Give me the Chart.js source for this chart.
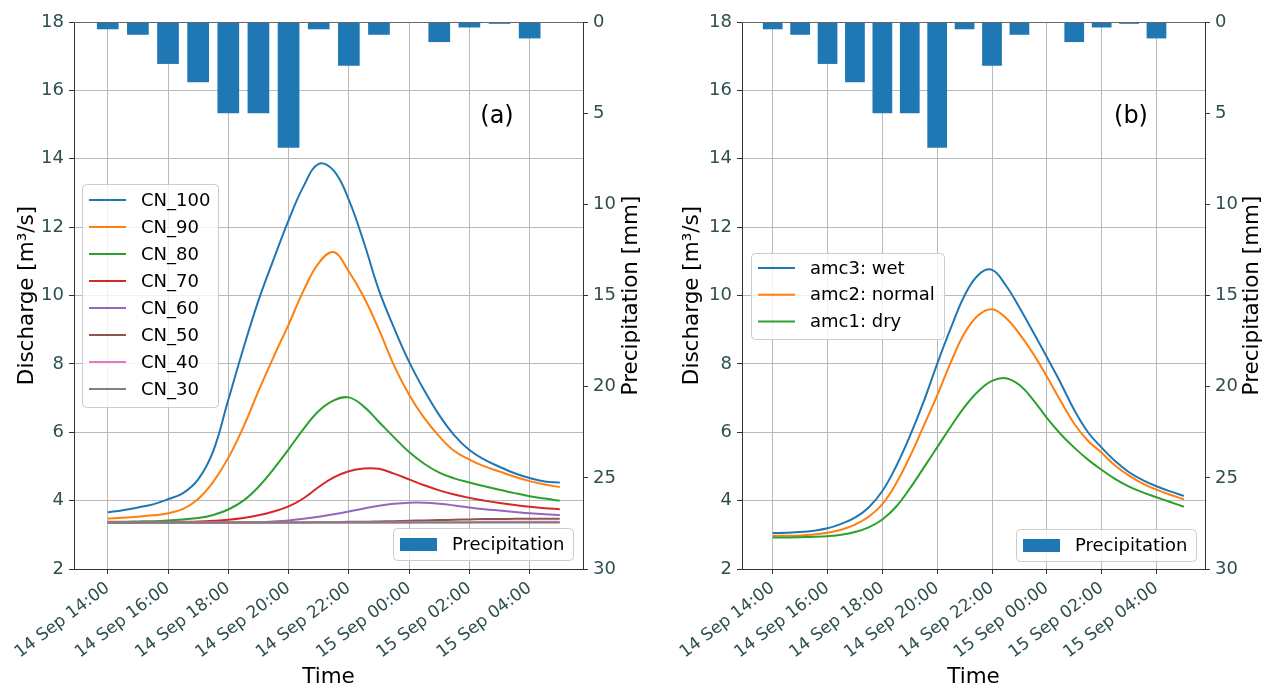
<!DOCTYPE html>
<html>
<head>
<meta charset="utf-8">
<script src="https://cdn.jsdelivr.net/npm/chart.js@4.4.0/dist/chart.umd.min.js"></script>
<style>
  body { margin: 0; background: #fff; }
  canvas { position: absolute; top: 0; }
  #chartA { left: 0; }
  #chartB { left: 640px; }
</style>
</head>
<body>
<canvas id="chartA" width="640" height="689"></canvas>
<canvas id="chartB" width="624" height="689"></canvas>
<script>
// x values are hours after 14 Sep 14:00
var hours = [0, 0.5, 1, 1.5, 2, 2.5, 3, 3.5, 4, 4.5, 5, 5.5, 6, 6.5, 7, 7.5,
             8, 8.5, 9, 9.5, 10, 10.5, 11, 11.5, 12, 12.5, 13, 13.5, 14, 14.5, 15];
var rainHours = [0, 1, 2, 3, 4, 5, 6, 7, 8, 9, 10, 11, 12, 13, 14];
var rain = [0.4, 0.7, 2.3, 3.3, 5.0, 5.0, 6.9, 0.4, 2.4, 0.7, 0, 1.1, 0.3, 0.1, 0.9];
var tickHours = [0, 2, 4, 6, 8, 10, 12, 14];
var tickLabels = ['14 Sep 14:00', '14 Sep 16:00', '14 Sep 18:00', '14 Sep 20:00',
                  '14 Sep 22:00', '15 Sep 00:00', '15 Sep 02:00', '15 Sep 04:00'];

// panel (a)
var cnNames = ['CN_100', 'CN_90', 'CN_80', 'CN_70', 'CN_60', 'CN_50', 'CN_40', 'CN_30'];
var cn100 = [3.66, 3.72, 3.80, 3.89, 4.04, 4.22, 4.62, 5.45, 6.95, 8.45, 9.85, 11.05, 12.2, 13.2, 13.85, 13.65,
             12.8, 11.55, 10.15, 9.05, 8.06, 7.23, 6.5, 5.91, 5.48, 5.2, 4.99, 4.8, 4.66, 4.56, 4.53];
var cn90 = [3.48, 3.50, 3.53, 3.57, 3.63, 3.76, 4.05, 4.55, 5.25, 6.15, 7.2, 8.2, 9.15, 10.15, 10.95, 11.27,
            10.7, 9.95, 9.0, 7.95, 7.1, 6.42, 5.88, 5.45, 5.2, 5.0, 4.85, 4.7, 4.57, 4.47, 4.4];
var cn80 = [3.38, 3.38, 3.39, 3.40, 3.42, 3.45, 3.49, 3.58, 3.74, 4.0, 4.4, 4.92, 5.5, 6.1, 6.62, 6.93,
            7.02, 6.75, 6.3, 5.85, 5.42, 5.08, 4.82, 4.65, 4.53, 4.42, 4.32, 4.22, 4.13, 4.06, 4.0];
var cn70 = [3.36, 3.36, 3.36, 3.37, 3.37, 3.38, 3.39, 3.41, 3.44, 3.49, 3.57, 3.68, 3.83, 4.07, 4.4, 4.68,
            4.86, 4.94, 4.93, 4.79, 4.62, 4.45, 4.3, 4.18, 4.08, 4.0, 3.93, 3.87, 3.82, 3.78, 3.75];
var cn60 = [3.36, 3.36, 3.36, 3.36, 3.36, 3.36, 3.36, 3.36, 3.36, 3.36, 3.37, 3.39, 3.42, 3.47, 3.53, 3.6,
            3.68, 3.77, 3.85, 3.91, 3.94, 3.94, 3.91, 3.86, 3.8, 3.75, 3.71, 3.67, 3.63, 3.6, 3.58];
var cn50 = [3.36, 3.36, 3.36, 3.36, 3.36, 3.36, 3.36, 3.36, 3.36, 3.36, 3.36, 3.36, 3.36, 3.36, 3.37, 3.37,
            3.38, 3.38, 3.39, 3.4, 3.41, 3.42, 3.43, 3.44, 3.45, 3.46, 3.46, 3.47, 3.47, 3.47, 3.47];
var cn40 = [3.36, 3.36, 3.36, 3.36, 3.36, 3.36, 3.36, 3.36, 3.36, 3.36, 3.36, 3.36, 3.36, 3.36, 3.36, 3.36,
            3.36, 3.36, 3.36, 3.36, 3.36, 3.37, 3.37, 3.37, 3.37, 3.38, 3.38, 3.38, 3.38, 3.38, 3.38];
var cn30 = [3.36, 3.36, 3.36, 3.36, 3.36, 3.36, 3.36, 3.36, 3.36, 3.36, 3.36, 3.36, 3.36, 3.36, 3.36, 3.36,
            3.36, 3.36, 3.36, 3.36, 3.36, 3.36, 3.36, 3.36, 3.36, 3.36, 3.36, 3.36, 3.36, 3.36, 3.36];

// panel (b)
var amcNames = ['amc3: wet', 'amc2: normal', 'amc1: dry'];
var amcWet = [3.05, 3.06, 3.08, 3.12, 3.19, 3.32, 3.5, 3.8, 4.28, 5.0, 5.88, 6.88, 8.0, 9.05, 10.0, 10.6,
              10.75, 10.3, 9.65, 8.93, 8.2, 7.45, 6.65, 6.0, 5.55, 5.15, 4.83, 4.6, 4.42, 4.27, 4.14];
var amcNormal = [2.97, 2.97, 2.98, 3.01, 3.06, 3.15, 3.3, 3.53, 3.9, 4.5, 5.28, 6.17, 7.08, 8.05, 8.9, 9.42,
                 9.6, 9.35, 8.88, 8.3, 7.63, 6.92, 6.25, 5.75, 5.4, 5.02, 4.73, 4.5, 4.32, 4.17, 4.04];
var amcDry = [2.92, 2.92, 2.93, 2.94, 2.96, 3.0, 3.08, 3.22, 3.45, 3.82, 4.35, 4.95, 5.56, 6.17, 6.74, 7.2,
              7.5, 7.58, 7.38, 6.95, 6.42, 5.95, 5.55, 5.2, 4.9, 4.63, 4.41, 4.24, 4.1, 3.96, 3.82];

var colors = ['#1f77b4', '#ff7f0e', '#2ca02c', '#d62728', '#9467bd', '#8c564b', '#e377c2', '#7f7f7f'];
var tickColor = '#2f4f4f';
var gridColor = '#bababa';

Chart.defaults.font.family = 'DejaVu Sans';

function pts(ys) {
  return ys.map(function (y, i) { return { x: hours[i], y: y }; });
}

function lineSet(label, ys, i, n) {
  return {
    type: 'line', label: label, data: pts(ys), yAxisID: 'y',
    borderColor: colors[i], borderWidth: 2, pointRadius: 0, tension: 0.4,
    fill: false, order: n - i
  };
}

function rainSet() {
  return {
    type: 'bar', label: 'Precipitation', yAxisID: 'yP', order: 20,
    data: rain.map(function (v, i) { return { x: rainHours[i], y: v }; }),
    backgroundColor: '#1f77b4', borderWidth: 0
  };
}

function roundRect(ctx, x, y, w, h, r) {
  ctx.beginPath();
  ctx.moveTo(x + r, y);
  ctx.arcTo(x + w, y, x + w, y + h, r);
  ctx.arcTo(x + w, y + h, x, y + h, r);
  ctx.arcTo(x, y + h, x, y, r);
  ctx.arcTo(x, y, x + w, y, r);
  ctx.closePath();
}

function drawBox(ctx, f) {
  roundRect(ctx, f[0] + 0.5, f[1] + 0.5, f[2], f[3], 4);
  ctx.fillStyle = 'rgba(255,255,255,0.8)';
  ctx.fill();
  ctx.strokeStyle = '#cccccc';
  ctx.lineWidth = 1;
  ctx.stroke();
}

var extras = {
  id: 'extras',
  afterDraw: function (chart, args, o) {
    var ctx = chart.ctx, a = chart.chartArea;
    ctx.save();
    // top spine
    ctx.strokeStyle = '#666';
    ctx.lineWidth = 1;
    ctx.beginPath();
    ctx.moveTo(a.left, a.top + 0.5);
    ctx.lineTo(a.right, a.top + 0.5);
    ctx.stroke();

    // right axis title, reading upwards like the left one
    ctx.save();
    ctx.fillStyle = '#000';
    ctx.font = '21.5px "DejaVu Sans"';
    ctx.textAlign = 'center';
    ctx.textBaseline = 'middle';
    ctx.translate(a.right + o.rightTitleOffset, (a.top + a.bottom) / 2);
    ctx.rotate(-Math.PI / 2);
    ctx.fillText('Precipitation [mm]', 0, 0);
    ctx.restore();

    // panel letter
    ctx.fillStyle = '#000';
    ctx.font = '24px "DejaVu Sans"';
    ctx.textAlign = 'center';
    ctx.textBaseline = 'middle';
    ctx.fillText(o.letter, o.letterX, o.letterY);

    // line legend
    var lines = chart.data.datasets.filter(function (d) { return d.type === 'line'; });
    var f = o.lineLegend;
    drawBox(ctx, f);
    ctx.font = '18px "DejaVu Sans"';
    ctx.textAlign = 'left';
    lines.forEach(function (d, i) {
      var y = f[1] + o.firstRow + i * o.rowH;
      ctx.strokeStyle = d.borderColor;
      ctx.lineWidth = 2;
      ctx.beginPath();
      ctx.moveTo(f[0] + 7, y);
      ctx.lineTo(f[0] + 44, y);
      ctx.stroke();
      ctx.fillStyle = '#000';
      ctx.fillText(d.label, f[0] + 59, y + 1);
    });

    // bar legend
    var bars = chart.data.datasets.filter(function (d) { return d.type === 'bar'; })[0];
    var g = o.barLegend;
    drawBox(ctx, g);
    var cy = g[1] + g[3] / 2 + 0.5;
    ctx.fillStyle = bars.backgroundColor;
    ctx.fillRect(g[0] + 7, cy - 6.5, 37, 13);
    ctx.fillStyle = '#000';
    ctx.fillText(bars.label, g[0] + 59, cy + 1);
    ctx.restore();
  }
};

function makeChart(id, datasets, lay) {
  return new Chart(document.getElementById(id), {
    type: 'line',
    data: { datasets: datasets },
    options: {
      responsive: false,
      animation: false,
      layout: { padding: { top: 22, left: 0, right: 0, bottom: 0 } },
      plugins: {
        legend: { display: false },
        tooltip: { enabled: false },
        extras: lay
      },
      scales: {
        x: {
          type: 'linear', min: -1.12, max: 15.77, offset: false,
          afterBuildTicks: function (s) { s.ticks = tickHours.map(function (v) { return { value: v }; }); },
          afterFit: function (s) { s.height = 120; },
          ticks: {
            autoSkip: false, maxRotation: 37, minRotation: 37, padding: 4,
            color: tickColor, font: { size: 17 },
            callback: function (v) { return tickLabels[tickHours.indexOf(v)]; }
          },
          grid: { offset: false, color: gridColor, lineWidth: 1, tickLength: 5, tickColor: '#333' },
          border: { color: '#333', width: 1 },
          title: { display: true, text: 'Time', color: '#000', font: { size: 21.5, lineHeight: 1.05 },
                   padding: { top: 0, bottom: 0 } }
        },
        y: {
          position: 'left', min: 2, max: 18,
          afterFit: function (s) { s.width = lay.leftW; },
          ticks: { stepSize: 2, padding: 5, color: tickColor, font: { size: 18 } },
          grid: { color: gridColor, lineWidth: 1, tickLength: 5, tickColor: '#333' },
          border: { color: '#333', width: 1 },
          title: { display: true, text: 'Discharge [m³/s]', color: '#000', font: { size: 21.5 },
                   padding: { top: lay.leftTitlePad, bottom: 0 } }
        },
        yP: {
          position: 'right', reverse: true, min: 0, max: 30,
          afterFit: function (s) { s.width = lay.rightW; },
          ticks: { stepSize: 5, padding: 5, color: tickColor, font: { size: 18 } },
          grid: { drawOnChartArea: false, tickLength: 5, tickColor: '#333' },
          border: { color: '#333', width: 1 }
        }
      }
    },
    plugins: [extras]
  });
}

var setsA = cnNames.map(function (n, i) {
  return lineSet(n, [cn100, cn90, cn80, cn70, cn60, cn50, cn40, cn30][i], i, cnNames.length);
});
setsA.push(rainSet());

var setsB = amcNames.map(function (n, i) {
  return lineSet(n, [amcWet, amcNormal, amcDry][i], i, amcNames.length);
});
setsB.push(rainSet());

makeChart('chartA', setsA, {
  leftW: 74, rightW: 57, leftTitlePad: 15, rightTitleOffset: 48,
  letter: '(a)', letterX: 497, letterY: 117,
  lineLegend: [82, 184, 136, 223], firstRow: 16, rowH: 27,
  barLegend: [393, 528, 180, 32]
});

makeChart('chartB', setsB, {
  leftW: 102, rightW: 59, leftTitlePad: 40, rightTitleOffset: 47,
  letter: '(b)', letterX: 491, letterY: 117,
  lineLegend: [111, 253, 193, 86], firstRow: 15, rowH: 26.7,
  barLegend: [376, 529, 180, 32]
});
</script>
</body>
</html>
